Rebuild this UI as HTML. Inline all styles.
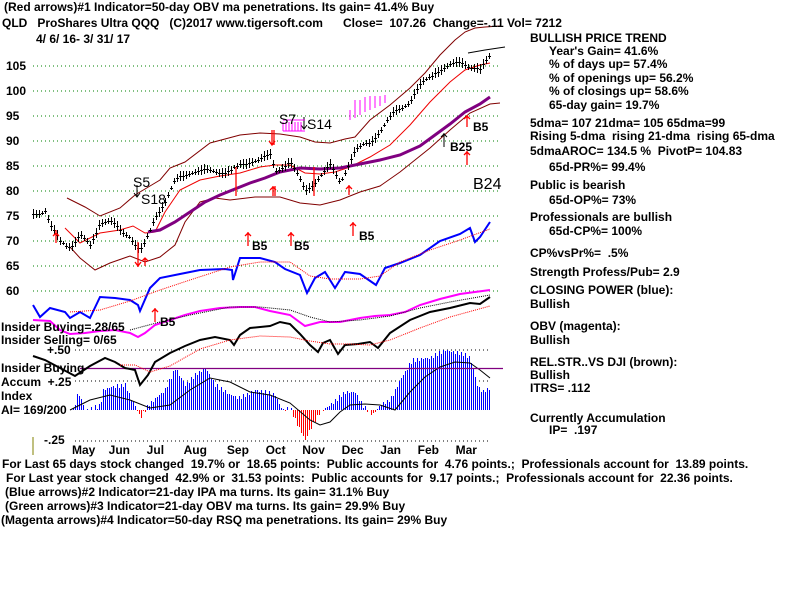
<!DOCTYPE html>
<html><head><meta charset="utf-8"><style>
body{margin:0;background:#fff;width:800px;height:600px;overflow:hidden;position:relative;font-family:"Liberation Sans",sans-serif;font-weight:bold;font-size:12px;color:#000}
.t{position:absolute;white-space:pre;line-height:12px}
svg{position:absolute;left:0;top:0}
</style></head><body>
<svg id="s" width="800" height="600" xmlns="http://www.w3.org/2000/svg">
<g stroke="#008000" stroke-dasharray="1,3" stroke-width="1" shape-rendering="crispEdges">
<line x1="33" x2="500" y1="66" y2="66"/><line x1="33" x2="500" y1="91" y2="91"/><line x1="33" x2="500" y1="116" y2="116"/><line x1="33" x2="500" y1="141" y2="141"/><line x1="33" x2="500" y1="166" y2="166"/><line x1="33" x2="500" y1="191" y2="191"/><line x1="33" x2="500" y1="216" y2="216"/><line x1="33" x2="500" y1="241" y2="241"/><line x1="33" x2="500" y1="266" y2="266"/><line x1="33" x2="500" y1="291" y2="291"/>
</g>
<g stroke="#000" stroke-dasharray="1,3" shape-rendering="crispEdges"><line x1="75" x2="490" y1="350" y2="350"/><line x1="75" x2="490" y1="381" y2="381"/><line x1="75" x2="490" y1="441" y2="441"/></g>
<line x1="33" x2="33" y1="437" y2="455" stroke="#808000"/>
<g id="hist" shape-rendering="crispEdges"></g>
<polyline fill="none" stroke="#000" stroke-width="1" points="70,410 90,400 110,395 130,400 150,408 170,405 190,390 210,378 230,382 250,392 270,395 290,403 310,420 320,425 330,422 340,412 350,405 365,404 380,405 395,410 410,392 425,377 440,367 455,362 470,363 480,370 490,378"/>
<line x1="80" x2="503" y1="368.5" y2="368.5" stroke="#800080" stroke-width="1.3"/>
<polyline fill="none" stroke="#800000" stroke-width="1" points="67,198 85,207 100,216 120,208 135,195 150,186 160,180 170,168 185,162 210,143 240,135 260,133 280,134 300,137 315,142 330,143 345,139 355,137 370,120 390,105 410,88 425,73 440,55 455,40 465,32 475,28 485,27 500,26"/>
<polyline fill="none" stroke="#800000" stroke-width="1" points="70,247 80,258 95,270 110,263 130,256 145,262 160,257 175,245 185,222 200,202 215,198 230,200 255,197 280,197 300,203 320,205 340,200 360,192 380,186 400,172 415,160 430,148 450,130 470,113 490,104 500,103"/>
<polyline fill="none" stroke="#f00000" stroke-width="1" points="65,228 80,243 100,233 120,230 133,226 145,233 155,232 165,212 180,190 200,180 220,176 240,173 260,167 275,165 290,165 305,173 320,174 335,172 350,167 370,157 390,145 410,125 430,102 450,82 465,70 480,65 490,63"/>
<polyline fill="none" stroke="#000" stroke-width="1" points="468,53 485,50 505,47"/>
<polyline fill="none" stroke="#800080" stroke-width="3" points="148,232 160,230 175,222 190,212 205,202 220,195 235,189 250,183 265,178 280,172 300,168 320,169 340,168 360,164 380,160 400,155 420,146 435,135 450,124 465,112 480,104 490,97"/>
<g id="bars" fill="#000"></g>
<polyline fill="none" stroke="#0000ff" stroke-width="2" points="33,305 40,317 50,308 65,312 70,318 80,312 90,318 100,297 115,298 130,300 138,305 140,311 150,288 160,278 180,274 200,270 225,269 232,270 233,280 240,258 260,258 275,262 285,269 300,275 307,293 315,278 325,272 335,288 345,272 360,274 376,285 385,268 400,263 420,255 440,241 460,234 470,228 475,242 480,237 490,222"/>
<polyline fill="none" stroke="#f00" stroke-width="1" stroke-dasharray="1,1" points="70,312 100,310 130,301 160,290 190,280 230,267 260,262 290,262 310,276 330,279 360,279 380,276 400,262 430,250 460,240 490,229"/>
<polyline fill="none" stroke="#ff00ff" stroke-width="2" points="33,320 50,321 60,330 70,334 85,333 100,331 115,330 130,333 138,337 145,333 155,325 170,320 185,315 200,311 220,308 240,307 255,307 270,311 290,315 305,326 320,322 340,322 360,318 375,316 390,315 405,312 420,305 440,299 460,294 475,292 490,290"/>
<polyline fill="none" stroke="#000" stroke-width="1" stroke-dasharray="1,1" points="130,330 160,322 190,315 230,307 260,307 290,310 310,317 330,322 360,320 390,316 420,308 450,302 490,295"/>
<polyline fill="none" stroke="#000" stroke-width="2" points="33,356 45,360 60,368 75,376 90,366 105,358 115,362 125,368 135,370 140,385 148,375 155,362 170,353 185,346 200,340 215,337 230,340 234,345 240,335 250,328 270,326 280,322 290,324 300,334 310,345 318,352 323,343 330,340 338,354 345,345 358,344 370,342 378,348 390,333 410,320 430,312 450,308 470,303 480,304 490,297"/>
<polyline fill="none" stroke="#f00" stroke-width="1" stroke-dasharray="1,1" points="120,365 135,365 150,372 170,366 200,349 230,340 260,336 290,337 310,341 330,344 350,344 370,345 390,340 420,328 450,317 490,306"/>
<g fill="none" stroke="#f00" stroke-width="1.3">
<path d="M56,230v13M53,236l3,-3 3,3"/><path d="M138,242v25M141,262l-3,4 -3,-4"/><path d="M145,258v8M142,261l3,-3 3,3"/>
<path d="M248,232v14M245,236l3,-3 3,3"/><path d="M291,232v14M288,236l3,-3 3,3"/><path d="M353,222v14M350,226l3,-3 3,3"/>
<path d="M155,308v14M152,312l3,-3 3,3"/><path d="M272,130v15M269,141l3,4 3,-4"/><path d="M274,130v15"/>
<path d="M273,186v10M270,190l3,-3 3,3"/><path d="M275,186v10"/><path d="M236,167v29"/><path d="M314,167v29"/><path d="M349,185v10M346,189l3,-3 3,3"/>
<path d="M467,115v12M464,119l3,-3 3,3"/><path d="M467,151v14M464,155l3,-3 3,3"/></g>
<g fill="none" stroke="#000"><path d="M444,133v14M441,137l3,-3 3,3"/><path d="M304,117v12M301,125l3,4 3,-4"/><path d="M137,185v12M134,193l3,4 3,-4"/></g>
<g stroke="#ff00ff" stroke-width="1"><path d="M283,120h22M283,131h22"/><path d="M350,110v10M355,100v18M360,100v15M365,97v15M370,96v14M375,96v12M380,96v10M385,95v8"/><path d="M283,122v9M286,122v9M289,122v9M292,122v9M295,122v9M298,122v9M301,122v9"/></g>
</svg>
<div class="t" style="left:4px;top:1px">(Red arrows)#1 Indicator=50-day OBV ma penetrations. Its gain= 41.4% Buy</div>
<div class="t" style="left:2px;top:17px">QLD   ProShares Ultra QQQ   (C)2017 www.tigersoft.com      Close=  107.26  Change=-.11 Vol= 7212</div>
<div class="t" style="left:36px;top:33px">4/ 6/ 16- 3/ 31/ 17</div>
<div class="t" style="left:6px;top:60px">105</div><div class="t" style="left:6px;top:85px">100</div>
<div class="t" style="left:6px;top:110px">95</div><div class="t" style="left:6px;top:135px">90</div><div class="t" style="left:6px;top:160px">85</div><div class="t" style="left:6px;top:185px">80</div><div class="t" style="left:6px;top:210px">75</div><div class="t" style="left:6px;top:235px">70</div><div class="t" style="left:6px;top:260px">65</div><div class="t" style="left:6px;top:285px">60</div>
<div class="t" style="left:133px;top:176px;font-size:14px;font-weight:normal">S5</div><div class="t" style="left:141px;top:193px;font-size:14px;font-weight:normal">S18</div>
<div class="t" style="left:279px;top:113px;font-size:14px;font-weight:normal">S7</div><div class="t" style="left:307px;top:118px;font-size:14px;font-weight:normal">S14</div>
<div class="t" style="left:473px;top:121px">B5</div><div class="t" style="left:450px;top:141px">B25</div><div class="t" style="left:473px;top:179px;font-size:16px;font-weight:normal">B24</div>
<div class="t" style="left:252px;top:240px">B5</div><div class="t" style="left:294px;top:240px">B5</div><div class="t" style="left:359px;top:230px">B5</div><div class="t" style="left:160px;top:316px">B5</div>
<div class="t" style="left:1px;top:321px">Insider Buying=.28/65</div><div class="t" style="left:1px;top:334px">Insider Selling= 0/65</div>
<div class="t" style="left:47px;top:344px">+.50</div><div class="t" style="left:1px;top:362px">Insider Buying</div>
<div class="t" style="left:1px;top:376px">Accum  +.25</div><div class="t" style="left:1px;top:390px">Index</div><div class="t" style="left:1px;top:404px">AI= 169/200</div>
<div class="t" style="left:44px;top:434px">-.25</div>
<div class="t" style="left:72px;top:444px">May    Jun     Jul      Aug      Sep     Oct     Nov     Dec     Jan     Feb     Mar</div>
<div class="t" style="left:2px;top:458px">For Last 65 days stock changed  19.7% or  18.65 points:  Public accounts for  4.76 points.;  Professionals account for  13.89 points.</div>
<div class="t" style="left:6px;top:472px">For Last year stock changed  42.9% or  31.53 points:  Public accounts for  9.17 points.;  Professionals account for  22.36 points.</div>
<div class="t" style="left:5px;top:486px">(Blue arrows)#2 Indicator=21-day IPA ma turns. Its gain= 31.1% Buy</div>
<div class="t" style="left:5px;top:500px">(Green arrows)#3 Indicator=21-day OBV ma turns. Its gain= 29.9% Buy</div>
<div class="t" style="left:1px;top:514px">(Magenta arrows)#4 Indicator=50-day RSQ ma penetrations. Its gain= 29% Buy</div>
<div class="t" style="left:530px;top:32px">BULLISH PRICE TREND</div>
<div class="t" style="left:549px;top:45px">Year's Gain= 41.6%</div>
<div class="t" style="left:549px;top:58px">% of days up= 57.4%</div>
<div class="t" style="left:549px;top:72px">% of openings up= 56.2%</div>
<div class="t" style="left:549px;top:85px">% of closings up= 58.6%</div>
<div class="t" style="left:549px;top:99px">65-day gain= 19.7%</div>
<div class="t" style="left:530px;top:117px">5dma= 107 21dma= 105 65dma=99</div>
<div class="t" style="left:530px;top:130px">Rising 5-dma  rising 21-dma  rising 65-dma</div>
<div class="t" style="left:530px;top:145px">5dmaAROC= 134.5 %  PivotP= 104.83</div>
<div class="t" style="left:549px;top:161px">65d-PR%= 99.4%</div>
<div class="t" style="left:530px;top:179px">Public is bearish</div>
<div class="t" style="left:549px;top:194px">65d-OP%= 73%</div>
<div class="t" style="left:530px;top:211px">Professionals are bullish</div>
<div class="t" style="left:549px;top:225px">65d-CP%= 100%</div>
<div class="t" style="left:530px;top:247px">CP%vsPr%=  .5%</div>
<div class="t" style="left:530px;top:266px">Strength Profess/Pub= 2.9</div>
<div class="t" style="left:530px;top:284px">CLOSING POWER (blue):</div>
<div class="t" style="left:530px;top:298px">Bullish</div>
<div class="t" style="left:530px;top:320px">OBV (magenta):</div>
<div class="t" style="left:530px;top:334px">Bullish</div>
<div class="t" style="left:530px;top:356px">REL.STR..VS DJI (brown):</div>
<div class="t" style="left:530px;top:369px">Bullish</div>
<div class="t" style="left:530px;top:382px">ITRS= .112</div>
<div class="t" style="left:530px;top:412px">Currently Accumulation</div>
<div class="t" style="left:549px;top:424px">IP=  .197</div>
<script>
function interp(pts,x){for(var i=0;i<pts.length-1;i++){var a=pts[i],b=pts[i+1];if(x>=a[0]&&x<=b[0]){return a[1]+(b[1]-a[1])*(x-a[0])/(b[0]-a[0]);}}return pts[pts.length-1][1];}
var NS="http://www.w3.org/2000/svg";
function rect(g,x,y,w,h,f){var r=document.createElementNS(NS,"rect");r.setAttribute("x",x);r.setAttribute("y",y);r.setAttribute("width",w);r.setAttribute("height",h);r.setAttribute("fill",f);g.appendChild(r);}
var hp=[[73,410],[78,392],[85,410],[100,406],[103,390],[110,387],[125,385],[130,397],[137,410],[140,418],[145,410],[150,403],[165,390],[175,368],[185,385],[195,375],[205,368],[215,385],[230,395],[240,398],[255,390],[265,392],[275,395],[282,410],[290,408],[295,420],[305,440],[312,425],[320,412],[330,405],[345,392],[355,392],[362,405],[372,415],[380,405],[390,400],[400,380],[412,360],[430,358],[445,350],[465,355],[470,358],[477,385],[482,392],[490,388]];
var h=document.getElementById("hist");
for(var x=73;x<=490;x+=2){var y=Math.round(interp(hp,x)+Math.sin(x*1.7)*2);if(y>410)rect(h,x,410,1,y-410,"#ff0000");else rect(h,x,y,1,410-y,"#0000ff");}
var pp=[[33,213],[45,211],[50,226],[60,241],[70,246],[80,236],[90,246],[100,221],[110,221],[120,231],[130,236],[136,246],[140,251],[145,243],[150,231],[155,216],[165,201],[175,181],[190,171],[210,171],[230,171],[250,161],[270,156],[275,171],[290,161],[300,181],[305,191],[315,181],[330,166],[340,181],[345,171],[355,151],[370,141],[380,131],[395,111],[410,101],[420,86],[435,71],[450,66],[460,61],[470,66],[480,71],[490,54]];
var b=document.getElementById("bars");
for(var x=33;x<=490;x+=3){var y=Math.round(interp(pp,x)+Math.sin(x*2.3)*2);var r=Math.round(2+Math.abs(Math.sin(x*0.9))*3);rect(b,x,y-r,1,2*r,"#000");rect(b,x-1,y,3,1,"#000");}
</script>
</body></html>
